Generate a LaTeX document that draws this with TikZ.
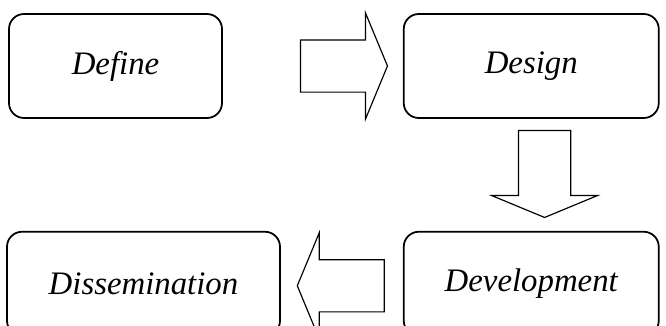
\documentclass[tikz,border=0pt]{standalone}
\usepackage{fontspec}
\setmainfont{Liberation Serif}
\usepackage{tikz}
\usetikzlibrary{positioning}
\usetikzlibrary{shapes.arrows}
\tikzstyle{phase} = [draw,line width=1.5pt,rounded corners=0.45cm,minimum height=3.12cm,font=\fontsize{28}{33}\selectfont\itshape]
\tikzstyle{blockarrow} = [draw,line width=1pt,single arrow,inner sep=0.765cm,minimum height=2.61cm,single arrow head extend=0.81cm,single arrow tip angle=135]

\begin{document}
\begin{tikzpicture}
	\useasboundingbox (-3.465,1.98) rectangle ++(19.98,-9.75);

	%Nodes
	\node (Define) [phase,minimum width=6.39cm] {Define};
	\node (Design) [phase,minimum width=7.65cm,right=5.4cm of Define] {Design};
	\node (Development) [phase,minimum width=7.65cm,below=3.36cm of Design] {Development};
	\node (Dissemination) [phase,minimum width=8.19cm,left=3.66cm of Development] {Dissemination};

	%Arrows
	\node (toDesign) [blockarrow,anchor=tail] at ([xshift=2.31cm]Define.east) {};
	\node (toDevelopment) [blockarrow,shape border rotate=270,anchor=tail] at ([xshift=0.4cm,yshift=-0.33cm]Design.south) {};
	\node (toDissemination) [blockarrow,shape border rotate=180,anchor=tail] at ([xshift=-0.54cm,yshift=-0.06cm]Development.west) {};

\end{tikzpicture}
\end{document}
